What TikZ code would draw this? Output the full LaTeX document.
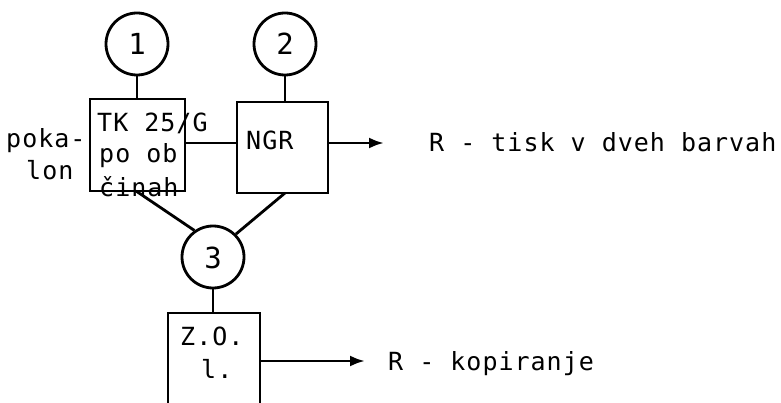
\documentclass[tikz,border=0pt]{standalone}
\usepackage{fontspec}
\usetikzlibrary{arrows.meta}
\newfontfamily\tw[LetterSpace=4]{DejaVu Sans Mono}
\begin{document}
\begin{tikzpicture}[x=1pt,y=-1pt,
  ln/.style={line width=2.8pt},
  circ/.style={draw,circle,line width=2.8pt,inner sep=0pt,minimum size=62pt},
  box/.style={draw,rectangle,line width=2.8pt,inner sep=0pt},
  txt/.style={anchor=base west,inner sep=0pt,font=\tw\fontsize{25}{30}\selectfont},
  num/.style={inner sep=0pt,font=\tw\fontsize{29}{30}\selectfont},
  arr/.style={line width=2.8pt,-{Latex[length=15pt,width=11pt]}}]
\useasboundingbox (0,0) rectangle (781,403);
\clip (0,0) rectangle (781,403);
% circles
\node[circ] (c1) at (137,44) {};
\node[num] at (137,44) {1};
\node[circ] (c2) at (285,44) {};
\node[num] at (285,44) {2};
\node[circ] (c3) at (213,257) {};
\node[num] at (213,258) {3};
% boxes
\node[box,minimum width=95pt,minimum height=92pt] (b1) at (137.5,145) {};
\node[box,minimum width=91pt,minimum height=91pt] (b2) at (282.5,147.5) {};
\node[box,minimum width=92pt,minimum height=110pt] (b3) at (214,368) {};
% texts
\node[txt] (t1) at (6,148) {poka-};
\node[txt] (t2) at (26,180) {lon};
\node[txt] (t3) at (97,132) {TK 25/G};
\node[txt] (t4) at (99,163) {po ob};
\node[txt] (t5) at (99,197) {činah};
\node[txt] (t6) at (246,150) {NGR};
\node[txt] (t7) at (429,152) {R - tisk v dveh barvah};
\node[txt] (t8) at (180,345) {Z.O.};
\node[txt] (t9) at (201,378) {l.};
\node[txt] (t10) at (388,370) {R - kopiranje};
\coordinate (e1) at (384,143);
\coordinate (e2) at (365,361);
% connectors
\draw[ln] (c1.south) -- (c1.south |- b1.north);
\draw[ln] (c2.south) -- (c2.south |- b2.north);
\draw[ln] (c3.south) -- (c3.south |- b3.north);
\draw[ln] (b1.east |- 0,143) -- (b2.west |- 0,143);
\draw[arr] (b2.east |- 0,143) -- (e1);
\draw[arr] (b3.east |- 0,361) -- (e2);
\draw[ln] (136,191) -- (c3.125);
\draw[ln] (285,193) -- (c3.45);
\end{tikzpicture}
\end{document}
